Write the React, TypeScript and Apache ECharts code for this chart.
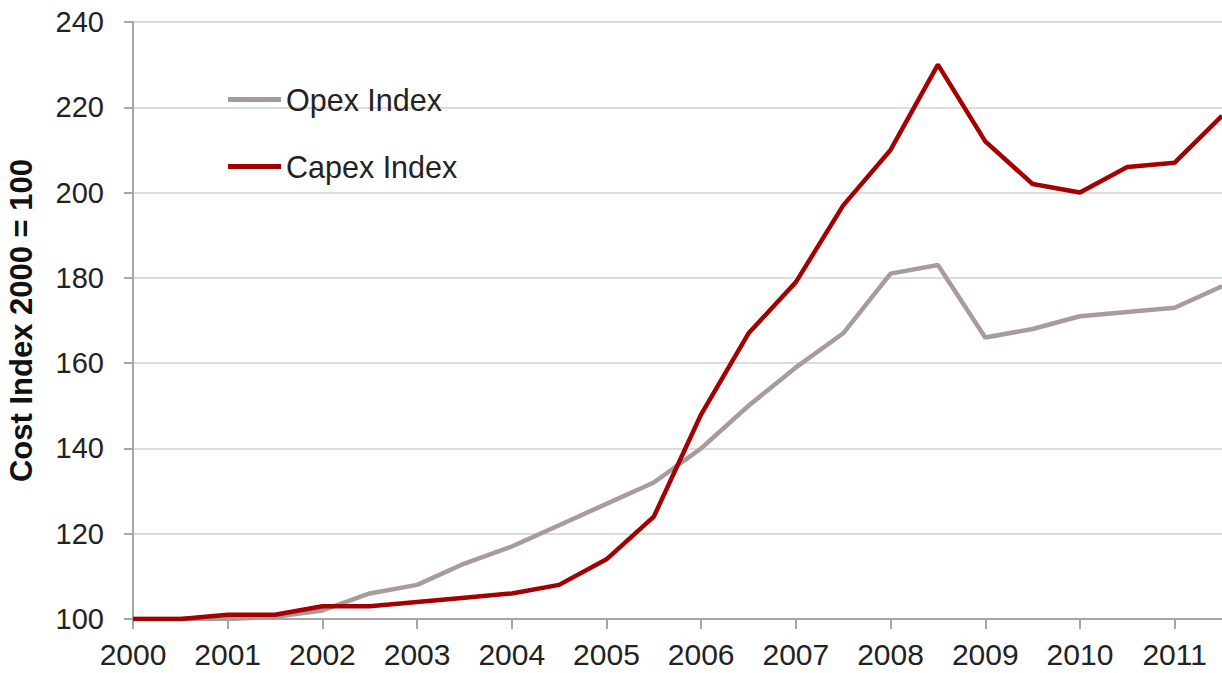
import React, { useEffect, useRef } from "react";
import * as echarts from "echarts";

const years = [2000, 2000.5, 2001, 2001.5, 2002, 2002.5, 2003, 2003.5, 2004, 2004.5, 2005, 2005.5, 2006, 2006.5, 2007, 2007.5, 2008, 2008.5, 2009, 2009.5, 2010, 2010.5, 2011, 2011.5];
const opexIndex = [100, 100, 100, 100.5, 102, 106, 108, 113, 117, 122, 127, 132, 140, 150, 159, 167, 181, 183, 166, 168, 171, 172, 173, 178];
const capexIndex = [100, 100, 101, 101, 103, 103, 104, 105, 106, 108, 114, 124, 148, 167, 179, 197, 210, 230, 212, 202, 200, 206, 207, 218];
const seriesNames = ["Opex Index", "Capex Index"];
const yAxisTitle = "Cost Index 2000 = 100";

const FONT = "'Liberation Sans', Arial, sans-serif";

export default function App() {
  const ref = useRef<HTMLDivElement>(null);
  useEffect(() => {
    if (!ref.current) return;
    const chart = echarts.init(ref.current, undefined, { renderer: "svg" });
    chart.setOption({
      animation: false,
      backgroundColor: "#ffffff",
      grid: { left: 133, right: 0, top: 22, bottom: 54, containLabel: false, outerBoundsMode: "none" },
      legend: {
        orient: "vertical",
        left: 228,
        top: 84,
        padding: 0,
        itemWidth: 53,
        itemHeight: 5,
        itemGap: 36,
        icon: "rect",
        textStyle: { fontFamily: FONT, fontSize: 30.5, color: "#222" },
        data: seriesNames,
      },
      xAxis: {
        type: "value",
        min: 2000,
        max: 2011.5,
        interval: 1,
        axisLine: { show: true, onZero: false, lineStyle: { color: "#A6A6A6", width: 2 } },
        axisTick: { show: true, length: 10, lineStyle: { color: "#A6A6A6", width: 2 } },
        axisLabel: {
          fontFamily: FONT,
          fontSize: 30,
          color: "#222",
          margin: 20,
          showMaxLabel: false,
          formatter: (v: number) => (Number.isInteger(v) ? String(v) : ""),
        },
        splitLine: { show: false },
      },
      yAxis: {
        type: "value",
        min: 100,
        max: 240,
        interval: 20,
        name: yAxisTitle,
        nameLocation: "middle",
        nameGap: 96,
        nameTextStyle: { fontFamily: FONT, fontSize: 31, fontWeight: "bold", color: "#111" },
        axisLine: { show: true, lineStyle: { color: "#A6A6A6", width: 2 } },
        axisTick: { show: true, length: 9, lineStyle: { color: "#A6A6A6", width: 2 } },
        axisLabel: { fontFamily: FONT, fontSize: 29, color: "#222", margin: 29 },
        splitLine: { show: true, lineStyle: { color: "#DCDCDC", width: 2 } },
      },
      series: [
        {
          name: seriesNames[0],
          type: "line",
          data: years.map((y, i) => [y, opexIndex[i]]),
          showSymbol: false,
          symbol: "none",
          lineStyle: { color: "#A89B9B", width: 4.5 },
          itemStyle: { color: "#A89B9B" },
          z: 2,
        },
        {
          name: seriesNames[1],
          type: "line",
          data: years.map((y, i) => [y, capexIndex[i]]),
          showSymbol: false,
          symbol: "none",
          lineStyle: { color: "#A50000", width: 4.5 },
          itemStyle: { color: "#A50000" },
          z: 3,
        },
      ],
    });
    return () => chart.dispose();
  }, []);
  return (
    <div
      ref={ref}
      style={{ position: "fixed", left: 0, top: 0, width: 1222, height: 673, background: "#fff" }}
    />
  );
}
